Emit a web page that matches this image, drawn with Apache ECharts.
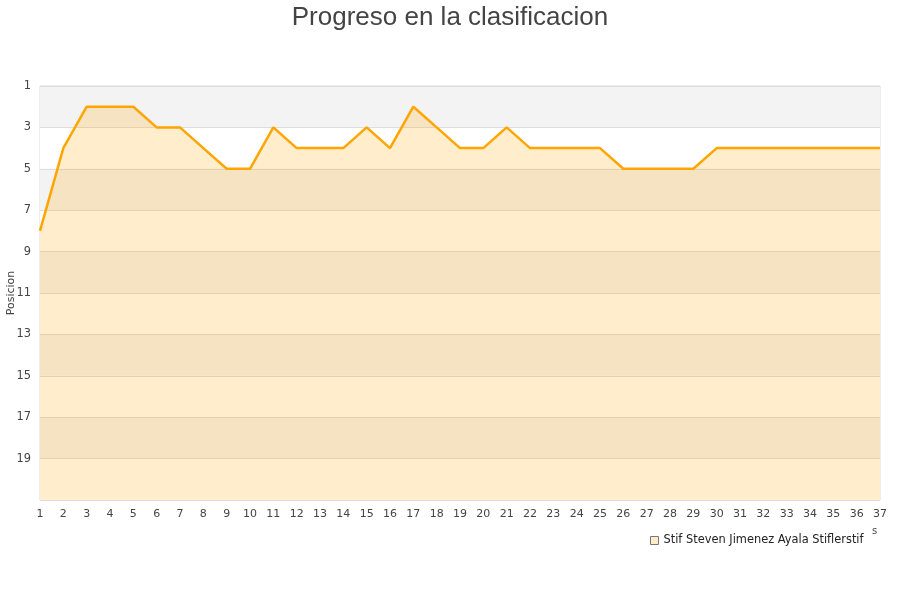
<!DOCTYPE html>
<html><head><meta charset="utf-8">
<script src="https://cdn.jsdelivr.net/npm/echarts@6/dist/echarts.min.js"></script>
<style>html,body{margin:0;padding:0;background:#fff}#c{width:900px;height:600px}</style>
</head><body><div id="c"></div>
<script>
var jornadas = ['1','2','3','4','5','6','7','8','9','10','11','12','13','14','15','16','17','18','19','20','21','22','23','24','25','26','27','28','29','30','31','32','33','34','35','36','37'];
var posiciones = [8,4,2,2,2,3,3,4,5,5,3,4,4,4,3,4,2,3,4,4,3,4,4,4,4,5,5,5,5,4,4,4,4,4,4,4,4];
var serieNombre = 'Stif Steven Jimenez Ayala Stiflerstif';
var titulo = 'Progreso en la clasificacion';
var ejeY = 'Posicion';

var chart = echarts.init(document.getElementById('c'), null, {renderer:'canvas'});
chart.setOption({
  animation:false,
  backgroundColor:'#fff',
  title:{text:titulo,left:'center',top:0,textStyle:{fontFamily:'Liberation Sans, Arial',fontSize:26,fontWeight:'normal',color:'#444'}},
  grid:{left:40,right:20,top:86,bottom:100,containLabel:false,outerBoundsMode:'none',show:true,borderColor:'#dcdcdc',borderWidth:1,backgroundColor:'transparent'},
  legend:{data:[{name:serieNombre,icon:'rect',itemStyle:{color:'#feecca',borderColor:'#777',borderWidth:1}}],left:645,top:530,itemWidth:8,itemHeight:8,itemGap:7,textStyle:{fontFamily:'DejaVu Sans',fontSize:11.4,color:'#222'}},
  xAxis:{type:'category',data:jornadas,boundaryGap:false,
    axisLine:{show:false},axisTick:{show:false},
    axisLabel:{fontFamily:'DejaVu Sans',fontSize:11,color:'#444',margin:9,interval:0},
    splitLine:{show:false}},
  yAxis:{type:'value',inverse:true,min:1,max:21,interval:2,
    name:ejeY,nameLocation:'middle',nameGap:23,nameMoveOverlap:false,nameTextStyle:{fontFamily:'DejaVu Sans',fontSize:11,color:'#444'},
    axisLine:{show:false},axisTick:{show:false},
    axisLabel:{fontFamily:'DejaVu Sans',fontSize:11.4,color:'#444',margin:9,showMaxLabel:false,padding:[3,0,0,0]},
    splitLine:{show:true,lineStyle:{color:'#dddddd',width:1}},
    splitArea:{show:true,areaStyle:{color:['#f3f3f3','#ffffff']}}},
  graphic:[{type:'text',left:872,top:526,style:{text:'s',font:'10px DejaVu Sans',fill:'#444'}}],
  series:[{name:serieNombre,type:'line',data:posiciones,symbol:'none',
    lineStyle:{color:'#ffa500',width:2.5},
    itemStyle:{color:'#feecca'},
    areaStyle:{color:'#ffa500',opacity:0.2,origin:'end'}}]
});
</script></body></html>
